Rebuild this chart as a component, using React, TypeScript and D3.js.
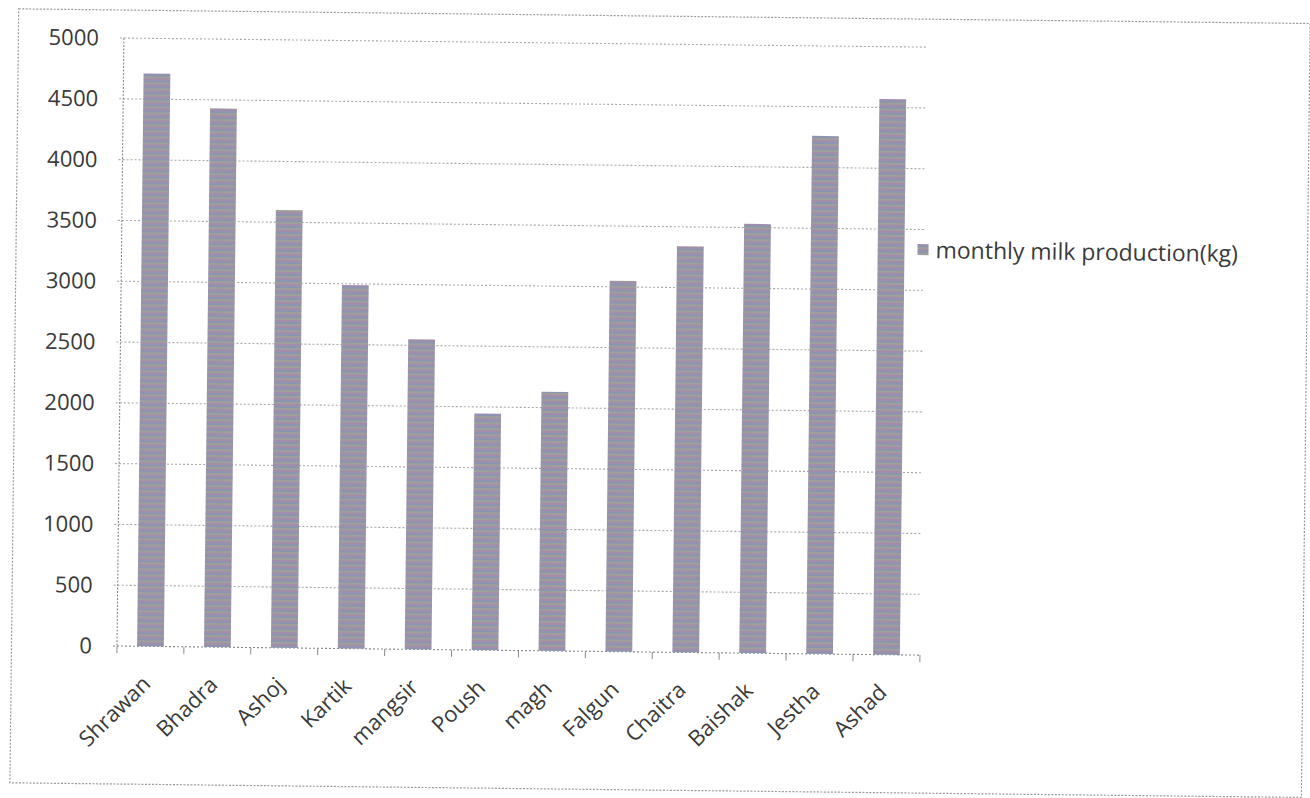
import React from "react";
import * as d3 from "d3";

// Monthly milk production, Nepali calendar months
const months = [
  "Shrawan", "Bhadra", "Ashoj", "Kartik", "mangsir", "Poush",
  "magh", "Falgun", "Chaitra", "Baishak", "Jestha", "Ashad",
];
const milkKg = [4710, 4430, 3600, 2990, 2550, 1945, 2130, 3050, 3340, 3530, 4260, 4570];
const yTicks = [0, 500, 1000, 1500, 2000, 2500, 3000, 3500, 4000, 4500, 5000];
const seriesName = "monthly milk production(kg)";

const W = 1310;
const H = 798;
const plot = { left: 117, right: 920, top: 38, bottom: 646 };
const font = "'Open Sans', Lato, sans-serif";
const textColor = "#3a3a3a";
const gridColor = "#a8a8a8";

export default function App() {
  const x = d3.scaleBand<string>().domain(months).range([plot.left, plot.right]).padding(0);
  const y = d3.scaleLinear().domain([0, 5000]).range([plot.bottom, plot.top]);
  const bw = x.bandwidth() * 0.4;

  return (
    <svg
      width={W}
      height={H}
      style={{ position: "absolute", left: 0, top: 0, background: "#fff" }}
    >
      <defs>
        <pattern id="barFill" width="4" height="6" patternUnits="userSpaceOnUse">
          <rect width="4" height="2" y="0" fill="#a48dab" />
          <rect width="4" height="2" y="2" fill="#8c95b0" />
          <rect width="4" height="2" y="4" fill="#9e9f9b" />
        </pattern>
      </defs>
      <g transform={`rotate(0.65, ${plot.left}, ${plot.bottom})`}>
        {/* outer chart frame */}
        <rect
          x={11.5}
          y={10}
          width={1291.5}
          height={774}
          fill="none"
          stroke="#9a9a9a"
          strokeWidth={1.2}
          strokeDasharray="2 1.5"
        />

        {/* horizontal gridlines */}
        {yTicks.map((t) => (
          <line
            key={`g${t}`}
            x1={plot.left - 4}
            x2={plot.right}
            y1={y(t)}
            y2={y(t)}
            stroke={t === 0 ? "#8a8a8a" : gridColor}
            strokeWidth={1.1}
            strokeDasharray="2 2"
          />
        ))}

        {/* value axis line */}
        <line
          x1={plot.left}
          x2={plot.left}
          y1={plot.top}
          y2={plot.bottom}
          stroke="#8a8a8a"
          strokeWidth={1.1}
          strokeDasharray="2 1.5"
        />

        {/* category tick marks */}
        {months.concat(["end"]).map((m, i) => {
          const xx = plot.left + i * x.step();
          return (
            <line
              key={`t${i}`}
              x1={xx}
              x2={xx}
              y1={plot.bottom}
              y2={plot.bottom + 7}
              stroke="#8a8a8a"
              strokeWidth={1}
            />
          );
        })}

        {/* bars */}
        {months.map((m, i) => (
          <rect
            key={m}
            x={(x(m) as number) + (x.bandwidth() - bw) / 2}
            y={y(milkKg[i])}
            width={bw}
            height={y(0) - y(milkKg[i])}
            fill="url(#barFill)"
          />
        ))}

        {/* value axis labels */}
        {yTicks.map((t) => (
          <text
            key={`l${t}`}
            x={92}
            y={y(t)}
            dy="0.35em"
            textAnchor="end"
            fontFamily={font}
            fontSize={22}
            fill={textColor}
          >
            {t}
          </text>
        ))}

        {/* category labels */}
        {months.map((m) => {
          const cx = (x(m) as number) + x.bandwidth() / 2 + 2;
          const cy = plot.bottom + 39;
          return (
            <text
              key={`c${m}`}
              x={cx}
              y={cy}
              transform={`rotate(-45, ${cx}, ${cy})`}
              textAnchor="end"
              fontFamily={font}
              fontSize={22}
              fill={textColor}
            >
              {m}
            </text>
          );
        })}

        {/* legend */}
        <rect x={913} y={235} width={11} height={11} fill="url(#barFill)" />
        <text
          x={931}
          y={241}
          dy="0.35em"
          fontFamily={font}
          fontSize={23}
          fill={textColor}
        >
          {seriesName}
        </text>
      </g>
    </svg>
  );
}
